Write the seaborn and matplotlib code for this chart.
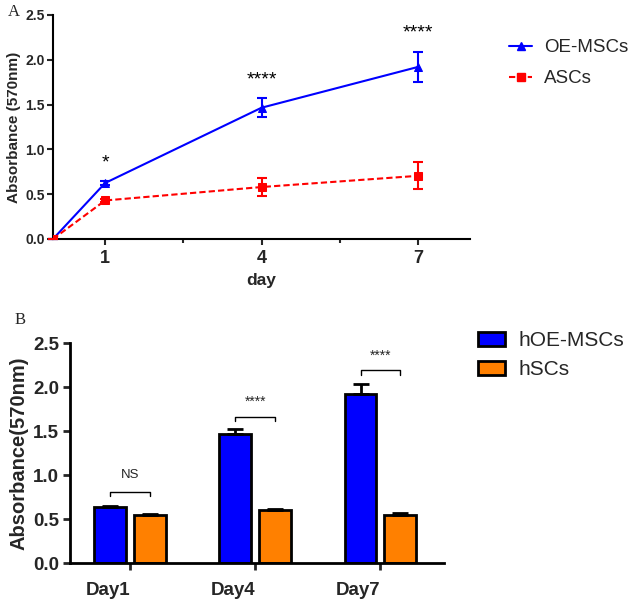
import matplotlib
matplotlib.use("Agg")
import matplotlib.pyplot as plt
import seaborn as sns
import pandas as pd
import numpy as np
from matplotlib.lines import Line2D
from matplotlib.patches import Patch

# ---------- Data: panel A ----------
days = [0, 1, 4, 7]
oe_mean = [0.0, 0.625, 1.465, 1.92]
oe_err = [0.0, 0.02, 0.105, 0.165]
asc_mean = [0.0, 0.43, 0.58, 0.705]
asc_err = [0.0, 0.02, 0.10, 0.15]
a_series = ["OE-MSCs", "ASCs"]
a_stars = ["*", "****", "****"]
a_star_days = [1, 4, 7]
a_star_y = [0.85, 1.78, 2.30]

# ---------- Data: panel B ----------
b_days = ["Day1", "Day4", "Day7"]
b_groups = ["hOE-MSCs", "hSCs"]
hoe_mean = [0.635, 1.47, 1.92]
hoe_err = [0.01, 0.05, 0.11]
hsc_mean = [0.545, 0.60, 0.545]
hsc_err = [0.01, 0.01, 0.02]
b_sig = ["NS", "****", "****"]
b_bracket_y = [0.81, 1.66, 2.19]

sns.set_theme(style="ticks")
plt.rcParams['font.family'] = ['Liberation Sans', 'DejaVu Sans']

fig = plt.figure(figsize=(6.32, 6.0), dpi=100)
BLUE = "#0000FF"
RED = "#FF0000"
ORANGE = "#FF8000"

# ---------------- Panel A ----------------
axA = fig.add_axes([53/632, 1-239/600, (470-53)/632, (239-15)/600])
dfA = pd.DataFrame({
    "day": days * 2,
    "abs": oe_mean + asc_mean,
    "err": oe_err + asc_err,
    "group": [a_series[0]] * 4 + [a_series[1]] * 4,
})
sns.lineplot(data=dfA[dfA.group == a_series[0]], x="day", y="abs", ax=axA,
             color=BLUE, lw=1.5, marker="^", markersize=6, markeredgecolor=BLUE,
             errorbar=None, legend=False, zorder=3)
sns.lineplot(data=dfA[dfA.group == a_series[1]], x="day", y="abs", ax=axA,
             color=RED, lw=1.5, linestyle=(0, (3, 1.5)), marker="s", markersize=6,
             markeredgecolor=RED, errorbar=None, legend=False, zorder=4)
axA.errorbar(days, oe_mean, yerr=oe_err, fmt="none", ecolor=BLUE, elinewidth=1.5,
             capsize=3.5, capthick=1.5, zorder=3, clip_on=False)
axA.errorbar(days, asc_mean, yerr=asc_err, fmt="none", ecolor=RED, elinewidth=1.5,
             capsize=3.5, capthick=1.5, zorder=4, clip_on=False)
for d, s, y in zip(a_star_days, a_stars, a_star_y):
    axA.text(d, y, s, ha="center", va="center", fontsize=14, color="black")
axA.set_xlim(0, 8)
axA.set_ylim(0, 2.5)
axA.set_xticks([1, 4, 7])
axA.set_xticks([2.5, 5.5], minor=True)
axA.set_yticks([0, 0.5, 1.0, 1.5, 2.0, 2.5])
axA.set_yticklabels(["0.0", "0.5", "1.0", "1.5", "2.0", "2.5"])
axA.tick_params(axis="y", labelsize=10, width=1.5, length=4, pad=2)
axA.tick_params(axis="x", labelsize=13, width=1.5, length=4, pad=4)
axA.tick_params(axis="x", which="minor", width=1.5, length=3)
for lab in axA.get_xticklabels() + axA.get_yticklabels():
    lab.set_fontweight("bold")
axA.set_xlabel("day", fontsize=12.5, fontweight="bold", labelpad=4)
axA.set_ylabel("Absorbance (570nm)", fontsize=11, fontweight="bold", labelpad=3)
sns.despine(ax=axA)
for sp in ["left", "bottom"]:
    axA.spines[sp].set_linewidth(1.5)
    axA.spines[sp].set_color("black")

handlesA = [
    Line2D([], [], color=BLUE, lw=1.5, marker="^", markersize=6),
    Line2D([], [], color=RED, lw=1.5, linestyle=(0, (3, 1.5)), marker="s", markersize=6),
]
fig.legend(handlesA, a_series, loc="upper left", bbox_to_anchor=(509/632, 1-39/600),
           frameon=False, fontsize=13.5, handlelength=1.25, handletextpad=0.6,
           labelspacing=0.75, borderpad=0, borderaxespad=0)

fig.text(14/632, 1-12/600, "A", fontsize=12, family="Liberation Serif",
         ha="center", va="center")

# ---------------- Panel B ----------------
axB = fig.add_axes([70/632, 37/600, (444-70)/632, (563-343)/600])
dfB = pd.DataFrame({
    "day": b_days * 2,
    "abs": hoe_mean + hsc_mean,
    "group": [b_groups[0]] * 3 + [b_groups[1]] * 3,
})
sns.barplot(data=dfB, x="day", y="abs", hue="group", hue_order=b_groups,
            order=b_days, palette=[BLUE, ORANGE], width=0.63, gap=0.19,
            edgecolor="black", linewidth=2, errorbar=None, legend=False,
            saturation=1, ax=axB)
# error bars (upper only) at bar centres
bars = axB.patches
centers = [p.get_x() + p.get_width() / 2 for p in bars]
tops = [p.get_height() for p in bars]
errs = hoe_err + hsc_err
axB.errorbar(centers, tops, yerr=[np.zeros(len(errs)), errs], fmt="none",
             ecolor="black", elinewidth=2, capsize=6, capthick=2, zorder=5)
# significance brackets
n = len(b_days)
for i in range(n):
    x1 = centers[i]
    x2 = centers[i + n]
    y = b_bracket_y[i]
    h = 0.05
    axB.plot([x1, x1, x2, x2], [y - h, y, y, y - h], color="black", lw=1)
    if b_sig[i] == "NS":
        axB.text((x1 + x2) / 2, y + 0.12, b_sig[i], ha="center", va="bottom",
                 fontsize=9.5)
    else:
        axB.text((x1 + x2) / 2, y + 0.17, b_sig[i], ha="center", va="center",
                 fontsize=10)
axB.set_xlim(-0.48, 2.51)
axB.set_ylim(0, 2.5)
axB.set_yticks([0, 0.5, 1.0, 1.5, 2.0, 2.5])
axB.set_yticklabels(["0.0", "0.5", "1.0", "1.5", "2.0", "2.5"])
axB.tick_params(axis="y", labelsize=13.5, width=2, length=5, pad=3)
axB.tick_params(axis="x", labelsize=13.5, width=2, length=5, pad=9)
for lab in axB.get_xticklabels() + axB.get_yticklabels():
    lab.set_fontweight("bold")
for lab in axB.get_xticklabels():
    lab.set_horizontalalignment("right")
axB.set_xlabel("")
axB.set_ylabel("Absorbance(570nm)", fontsize=14.5, fontweight="bold", labelpad=3)
sns.despine(ax=axB)
for sp in ["left", "bottom"]:
    axB.spines[sp].set_linewidth(2)
    axB.spines[sp].set_color("black")

handlesB = [Patch(facecolor=BLUE, edgecolor="black", lw=2),
            Patch(facecolor=ORANGE, edgecolor="black", lw=2)]
fig.legend(handlesB, b_groups, loc="upper left", bbox_to_anchor=(478/632, 1-331/600),
           frameon=False, fontsize=15, handlelength=1.3, handleheight=0.65,
           handletextpad=0.65, labelspacing=0.5, borderpad=0, borderaxespad=0)

fig.text(20/632, 1-320/600, "B", fontsize=12, family="Liberation Serif",
         ha="center", va="center")

fig.savefig("out.png", dpi=100)
